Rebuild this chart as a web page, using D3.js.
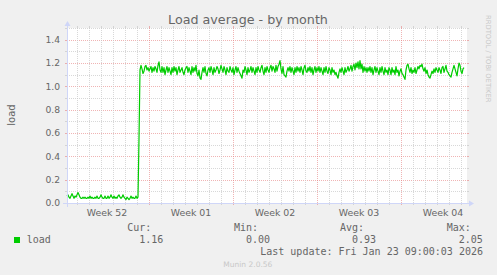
<!DOCTYPE html>
<html><head><meta charset="utf-8">
<script src="https://cdn.jsdelivr.net/npm/d3@7"></script>
<style>
html,body{margin:0;padding:0;background:#f0f0f0;}
svg{display:block;}
</style></head>
<body>
<script>
// ---- data ----
const title = "Load average - by month";
const yLabel = "load";
const seriesName = "load";
const timeStart = Date.UTC(2025, 11, 21, 4);   // left edge of plot
const timeEnd = Date.UTC(2026, 0, 23, 12);     // right edge of plot
const sampleStep = 2 * 3600 * 1000;            // 2-hour samples
const yTicks = [0.0, 0.2, 0.4, 0.6, 0.8, 1.0, 1.2, 1.4];
const statLabels = ["Cur:", "Min:", "Avg:", "Max:"];
const statValues = ["1.16", "0.00", "0.93", "2.05"];
const lastUpdate = "Last update: Fri Jan 23 09:00:03 2026";
const versionText = "Munin 2.0.56";
const watermark = "RRDTOOL / TOBI OETIKER";

const lowPart = [0.06,0.07,0.05,0.04,0.06,0.08,0.06,0.04,0.06,0.05,0.07,0.09,0.07,0.05,0.04,0.04,0.05,0.04,0.05,0.04,
0.04,0.05,0.04,0.06,0.04,0.05,0.04,0.04,0.05,0.04,0.06,0.04,0.04,0.05,0.07,0.05,0.04,0.04,0.06,0.04,
0.04,0.06,0.04,0.05,0.07,0.05,0.04,0.06,0.04,0.05,0.04,0.06,0.07,0.05,0.04,0.05,0.07,0.05,0.04,0.03,
0.05,0.04,0.03,0.04,0.06,0.04,0.05,0.04,0.04,0.06,0.04,0.05,0.55];
const highPart = [1.14,1.18,1.15,1.11,1.13,1.17,1.18,1.14,1.16,1.13,
1.15,1.17,1.12,1.16,1.13,1.17,1.15,1.12,1.18,1.21,
1.14,1.12,1.17,1.12,1.16,1.10,1.14,1.17,1.12,1.16,
1.13,1.10,1.16,1.12,1.17,1.13,1.16,1.10,1.14,1.17,
1.12,1.14,1.16,1.12,1.10,1.14,1.16,1.17,1.12,1.16,
1.13,1.10,1.17,1.12,1.16,1.13,1.18,1.11,1.09,1.14,
1.07,1.06,1.12,1.16,1.12,1.17,1.11,1.09,1.14,1.16,
1.12,1.17,1.14,1.10,1.16,1.12,1.14,1.17,1.15,1.11,
1.14,1.18,1.15,1.12,1.17,1.14,1.10,1.16,1.13,1.12,
1.17,1.14,1.12,1.16,1.10,1.14,1.17,1.12,1.16,1.13,
1.11,1.09,1.07,1.14,1.12,1.17,1.14,1.10,1.16,1.12,
1.14,1.17,1.12,1.16,1.13,1.10,1.16,1.12,1.17,1.14,
1.12,1.16,1.18,1.13,1.10,1.16,1.12,1.17,1.14,1.12,
1.16,1.18,1.13,1.17,1.15,1.12,1.18,1.13,1.17,1.19,
1.22,1.15,1.11,1.17,1.10,1.09,1.08,1.13,1.16,1.13,
1.17,1.12,1.16,1.13,1.10,1.16,1.12,1.17,1.13,1.16,
1.12,1.17,1.14,1.10,1.16,1.18,1.13,1.12,1.16,1.13,
1.17,1.12,1.16,1.10,1.14,1.17,1.12,1.16,1.13,1.17,
1.12,1.16,1.13,1.10,1.16,1.12,1.17,1.13,1.11,1.16,
1.14,1.10,1.16,1.12,1.14,1.10,1.12,1.09,1.07,1.12,
1.15,1.12,1.16,1.13,1.10,1.16,1.12,1.14,1.17,1.13,
1.15,1.18,1.13,1.17,1.19,1.14,1.20,1.16,1.21,1.15,
1.22,1.15,1.19,1.12,1.17,1.13,1.16,1.12,1.16,1.13,
1.17,1.12,1.16,1.10,1.14,1.17,1.12,1.16,1.13,1.10,
1.16,1.12,1.17,1.13,1.10,1.16,1.12,1.14,1.10,1.16,
1.14,1.10,1.16,1.12,1.14,1.10,1.17,1.12,1.14,1.09,
1.13,1.15,1.11,1.10,1.08,1.06,1.14,1.18,1.19,1.15,
1.12,1.16,1.11,1.14,1.12,1.16,1.11,1.14,1.17,1.15,
1.18,1.17,1.19,1.15,1.13,1.16,1.11,1.14,1.10,1.08,
1.07,1.10,1.13,1.11,1.15,1.12,1.16,1.14,1.12,1.16,
1.14,1.11,1.16,1.17,1.12,1.15,1.18,1.13,1.12,1.10,
1.09,1.08,1.12,1.15,1.18,1.15,1.12,1.09,1.15,1.20,
1.18,1.13,1.11,1.15,1.16];
const loadValues = lowPart.concat(highPart);

// ---- colours / layout ----
const W = 497, H = 275;
const X0 = 67, X1 = 467, Y0 = 203, Y1 = 28;
const FONT = "#666666", AXIS = "#CFD6F8", GRID = "rgba(200,200,200,0.7)", MGRID = "rgba(230,130,130,0.6)";
const LINE = "#00CC00";

const svg = d3.select("body").append("svg").attr("width", W).attr("height", H);
svg.append("rect").attr("width", W).attr("height", H).attr("fill", "#f0f0f0");
svg.append("rect").attr("x", X0).attr("y", Y1).attr("width", X1 - X0).attr("height", Y0 - Y1).attr("fill", "#ffffff");

const x = d3.scaleUtc().domain([timeStart, timeEnd]).range([X0, X1]);
const y = d3.scaleLinear().domain([0, 1.5]).range([Y0, Y1]);

const g = svg.append("g").attr("shape-rendering", "crispEdges");
// horizontal grid
const minorY = y.ticks(15).filter(v => v > 0 && Math.round(v * 10) % 2 === 1);
minorY.forEach(v => {
  const yy = Math.round(y(v)) + 0.5;
  g.append("line").attr("x1", X0).attr("x2", X1).attr("y1", yy).attr("y2", yy)
    .attr("stroke", GRID).attr("stroke-dasharray", "1,1");
  g.append("line").attr("x1", X0 - 2).attr("x2", X0).attr("y1", yy).attr("y2", yy).attr("stroke", GRID);
  g.append("line").attr("x1", X1).attr("x2", X1 + 2).attr("y1", yy).attr("y2", yy).attr("stroke", GRID);
});
yTicks.filter(v => v > 0).forEach(v => {
  const yy = Math.round(y(v)) + 0.5;
  g.append("line").attr("x1", X0).attr("x2", X1).attr("y1", yy).attr("y2", yy)
    .attr("stroke", MGRID).attr("stroke-dasharray", "1,1");
  g.append("line").attr("x1", X0 - 2).attr("x2", X0).attr("y1", yy).attr("y2", yy).attr("stroke", MGRID);
  g.append("line").attr("x1", X1).attr("x2", X1 + 2).attr("y1", yy).attr("y2", yy).attr("stroke", MGRID);
});
// vertical grid
const majorX = d3.utcWeek.range(new Date(timeStart), new Date(timeEnd));
const majorSet = new Set(majorX.map(d => +d));
d3.utcDay.range(new Date(timeStart), new Date(timeEnd)).filter(d => !majorSet.has(+d)).forEach(d => {
  const xx = Math.round(x(d)) + 0.5;
  g.append("line").attr("x1", xx).attr("x2", xx).attr("y1", Y1).attr("y2", Y0)
    .attr("stroke", GRID).attr("stroke-dasharray", "1,1");
  g.append("line").attr("x1", xx).attr("x2", xx).attr("y1", Y0).attr("y2", Y0 + 2).attr("stroke", GRID);
  g.append("line").attr("x1", xx).attr("x2", xx).attr("y1", Y1 - 2).attr("y2", Y1).attr("stroke", GRID);
});
majorX.forEach(d => {
  const xx = Math.round(x(d)) + 0.5;
  g.append("line").attr("x1", xx).attr("x2", xx).attr("y1", Y1).attr("y2", Y0)
    .attr("stroke", MGRID).attr("stroke-dasharray", "1,1");
  g.append("line").attr("x1", xx).attr("x2", xx).attr("y1", Y0).attr("y2", Y0 + 2).attr("stroke", MGRID);
  g.append("line").attr("x1", xx).attr("x2", xx).attr("y1", Y1 - 2).attr("y2", Y1).attr("stroke", MGRID);
});

// y tick labels
svg.append("g").selectAll("text").data(yTicks).join("text")
  .attr("x", X0 - 7).attr("y", d => y(d) + 3.2)
  .attr("text-anchor", "end").attr("font-family", "DejaVu Sans").attr("font-size", 9.2)
  .attr("fill", FONT).text(d => d.toFixed(1));

// x labels: week names centered in each week
const weekLabels = d3.utcWeek.range(d3.utcWeek.floor(new Date(timeStart)), new Date(timeEnd))
  .map(d => new Date(+d + 3.5 * 86400000));
svg.append("g").selectAll("text").data(weekLabels).join("text")
  .attr("x", d => x(d)).attr("y", 216)
  .attr("text-anchor", "middle").attr("font-family", "DejaVu Sans").attr("font-size", 9.4)
  .attr("fill", FONT).text(d => "Week " + d3.utcFormat("%V")(d));

// data line
const line = d3.line().x((d, i) => x(timeStart + i * sampleStep)).y(d => y(d));
svg.append("path").datum(loadValues).attr("d", line)
  .attr("fill", "none").attr("stroke", LINE).attr("stroke-width", 1.2).attr("stroke-linejoin", "round");

// axes
const ax = svg.append("g");
ax.append("line").attr("x1", X0 - 4).attr("x2", X1 + 4).attr("y1", Y0 + 0.5).attr("y2", Y0 + 0.5).attr("stroke", AXIS);
ax.append("line").attr("x1", X0 + 0.5).attr("x2", X0 + 0.5).attr("y1", Y0 + 4).attr("y2", Y1 - 4).attr("stroke", AXIS);
ax.append("path").attr("d", `M${X1 + 2},${Y0 - 3 + 0.5}L${X1 + 2},${Y0 + 3 + 0.5}L${X1 + 7},${Y0 + 0.5}Z`).attr("fill", AXIS);
ax.append("path").attr("d", `M${X0 - 3 + 0.5},${Y1 - 2}L${X0 + 3 + 0.5},${Y1 - 2}L${X0 + 0.5},${Y1 - 7}Z`).attr("fill", AXIS);

// title
svg.append("text").attr("x", 248).attr("y", 23.5).attr("text-anchor", "middle")
  .attr("font-family", "DejaVu Sans").attr("font-size", 12.7).attr("fill", FONT).text(title);
// y label
svg.append("text").attr("transform", "translate(14.5,115) rotate(-90)").attr("text-anchor", "middle")
  .attr("font-family", "DejaVu Sans").attr("font-size", 10).attr("fill", FONT).text(yLabel);
// watermark
svg.append("text").attr("transform", "translate(485.5,15) rotate(90)").attr("text-anchor", "start")
  .attr("font-family", "DejaVu Sans").attr("font-size", 6.8).attr("fill", "#c8c8c8").text(watermark);

// legend
const mono = "DejaVu Sans Mono";
svg.append("rect").attr("x", 14).attr("y", 237).attr("width", 6).attr("height", 6).attr("fill", LINE);
svg.append("text").attr("x", 26.7).attr("y", 243).attr("font-family", mono).attr("font-size", 10)
  .attr("fill", FONT).text(seriesName);
const statX = [127.3, 234, 340, 446.7];
svg.append("g").selectAll("text").data(statLabels).join("text")
  .attr("x", (d, i) => statX[i]).attr("y", 231).attr("font-family", mono).attr("font-size", 10)
  .attr("fill", FONT).text(d => d);
svg.append("g").selectAll("text").data(statValues).join("text")
  .attr("x", (d, i) => statX[i] + 12).attr("y", 243).attr("font-family", mono).attr("font-size", 10)
  .attr("fill", FONT).text(d => d);
svg.append("text").attr("x", 483).attr("y", 255).attr("text-anchor", "end").attr("font-family", mono)
  .attr("font-size", 10).attr("fill", FONT).text(lastUpdate);
svg.append("text").attr("x", 223.3).attr("y", 266.5).attr("font-family", "DejaVu Sans").attr("font-size", 7.5)
  .attr("fill", "#c8c8c8").text(versionText);
</script>
</body></html>
